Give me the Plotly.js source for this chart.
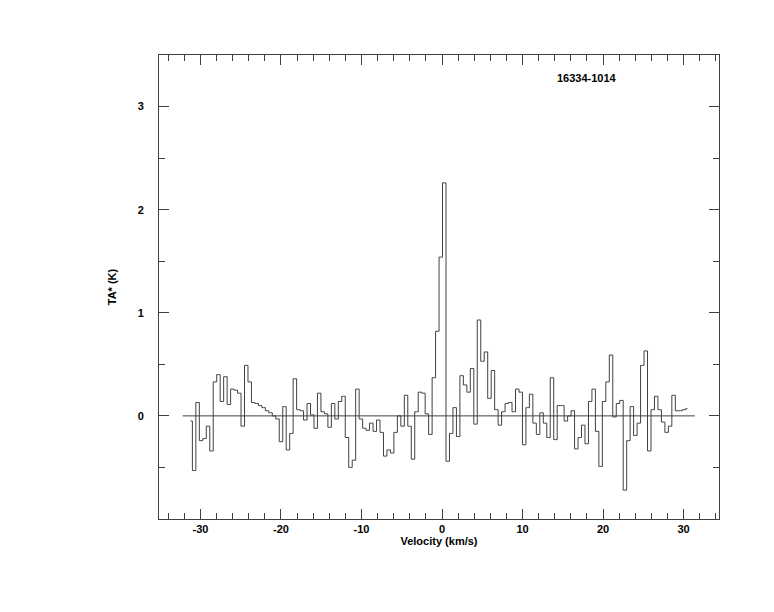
<!DOCTYPE html>
<html>
<head>
<meta charset="utf-8">
<script src="https://cdn.plot.ly/plotly-3.0.1.min.js"></script>
<style>html,body{margin:0;padding:0;background:#fff;}#chart{width:774px;height:612px;}</style>
</head>
<body>
<div id="chart"></div>
<script>
// Spectrum channel axis (first channel velocity and channel width, km/s)
const velocityStart = -31.22;
const channelWidth = 0.4315;
// Antenna temperature TA* (K) per channel
const antennaTemp = [
  -0.05, -0.53, 0.13, -0.24, -0.22, -0.10, -0.34, 0.33, 0.40, 0.14,
  0.38, 0.11, 0.26, 0.25, 0.22, -0.10, 0.49, 0.33, 0.13, 0.12,
  0.10, 0.08, 0.05, 0.03, 0.00, -0.03, -0.25, 0.09, -0.33, -0.17,
  0.36, 0.06, 0.05, -0.04, 0.12, 0.01, -0.12, 0.22, 0.04, 0.02,
  -0.11, 0.12, -0.03, 0.14, 0.19, -0.21, -0.50, -0.43, 0.26, -0.03,
  -0.12, -0.14, -0.07, -0.15, -0.04, -0.16, -0.39, -0.33, -0.36, -0.16,
  0.00, -0.10, 0.20, -0.10, -0.42, 0.04, 0.23, 0.22, 0.02, -0.18,
  0.37, 0.82, 1.54, 2.26, -0.44, -0.17, 0.08, -0.20, 0.39, 0.30,
  0.23, 0.46, -0.08, 0.93, 0.53, 0.62, 0.17, 0.44, 0.06, -0.09,
  0.04, 0.12, 0.13, 0.04, 0.26, 0.23, -0.28, 0.08, 0.21, -0.07,
  -0.18, 0.03, -0.07, -0.21, 0.37, -0.23, 0.10, 0.10, -0.05, 0.00,
  0.05, -0.32, -0.21, -0.09, -0.27, 0.14, 0.26, -0.15, -0.49, 0.14,
  0.33, 0.59, -0.01, 0.12, 0.15, -0.72, -0.24, 0.09, -0.19, -0.07,
  0.49, 0.63, -0.34, 0.06, 0.19, 0.06, -0.06, -0.16, -0.10, 0.20,
  0.05, 0.05, 0.06, 0.07
];
// Baseline extent (km/s) and level
const baselineX = [-32.2, 31.4];
const baselineY = [0, 0];
const sourceName = "16334-1014";
const xTickVals = [-30, -20, -10, 0, 10, 20, 30];
const xTickText = ["-30", "-20", "-10", "0", "10", "20", "30"];
const yTickVals = [0, 1, 2, 3];
const yTickText = ["0", "1", "2", "3"];

const velocity = antennaTemp.map((_, i) => velocityStart + i * channelWidth);

const lineColor = '#404040';
const font = {family: 'Liberation Sans, Arial, Helvetica, sans-serif', size: 11, color: '#000', weight: 'bold'};

const traces = [
  {x: baselineX, y: baselineY, mode: 'lines', line: {color: lineColor, width: 1}, hoverinfo: 'skip'},
  {x: velocity, y: antennaTemp, mode: 'lines', line: {color: lineColor, width: 1, shape: 'hvh'}}
];

const axisCommon = {
  showgrid: false, zeroline: false, showline: true, linecolor: lineColor, linewidth: 1,
  mirror: 'allticks', ticks: 'inside', ticklen: 10, tickwidth: 1, tickcolor: lineColor,
  tickfont: font, tickmode: 'array'
};

const layout = {
  width: 774, height: 612,
  margin: {l: 159, r: 55, t: 55, b: 93},
  paper_bgcolor: '#fff', plot_bgcolor: '#fff',
  showlegend: false,
  font: font,
  xaxis: Object.assign({}, axisCommon, {
    range: [-35.15, 34.4], tickvals: xTickVals, ticktext: xTickText,
    minor: {dtick: 2, ticks: 'inside', ticklen: 6, tickcolor: lineColor, showgrid: false},
    ticklabelstandoff: 0,
    title: {text: 'Velocity (km/s)', font: font, standoff: 3}
  }),
  yaxis: Object.assign({}, axisCommon, {
    range: [-1, 3.5], tickvals: yTickVals, ticktext: yTickText,
    minor: {dtick: 0.5, ticks: 'inside', ticklen: 6, tickcolor: lineColor, showgrid: false},
    ticklabelstandoff: 12,
    title: {text: 'TA* (K)', font: font, standoff: 18}
  }),
  annotations: [{
    text: sourceName, xref: 'paper', yref: 'paper', x: 0.764, y: 0.95,
    showarrow: false, font: font, xanchor: 'center', yanchor: 'middle'
  }]
};

Plotly.newPlot('chart', traces, layout, {displayModeBar: false, staticPlot: true});
</script>
</body>
</html>
